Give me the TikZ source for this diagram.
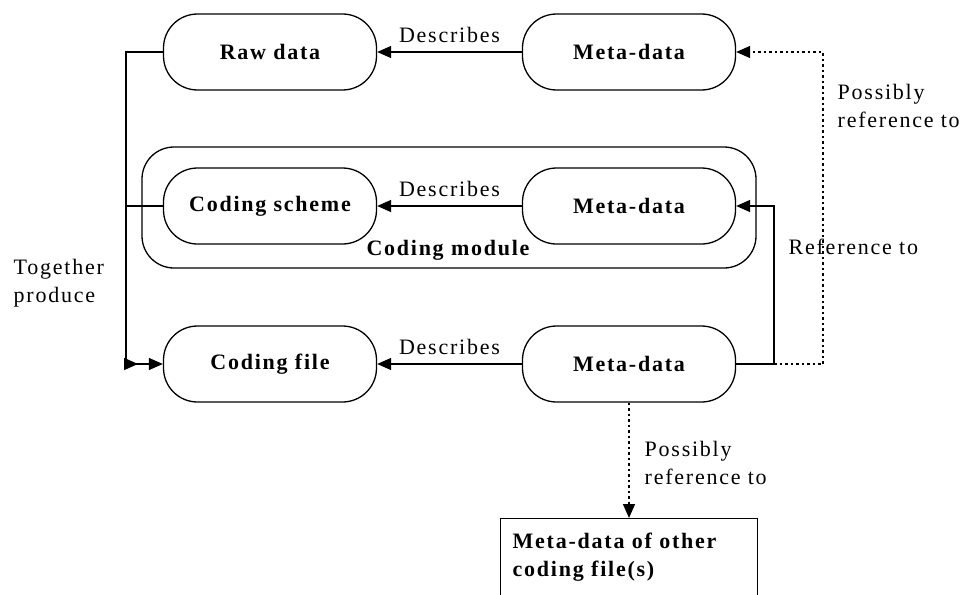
\documentclass[tikz,border=0pt]{standalone}
\usepackage{fontspec}
\setmainfont[LetterSpace=8]{Liberation Serif}
\usetikzlibrary{arrows.meta}

\tikzset{
    blob/.style={draw, line width=1.3pt, rounded corners=34pt, minimum width=213pt,
        minimum height=76pt, font=\fontsize{22}{28}\selectfont\bfseries},
    lbl/.style={inner sep=0pt, align=left},
    arr/.style={-{Triangle[length=14pt, width=12pt]}},
    dots/.style={dash pattern=on 2.5pt off 3pt},
}

\begin{document}
\begin{tikzpicture}[x=1pt, y=-1pt, line width=1.4pt,
    font=\fontsize{22}{28}\selectfont]
    \clip (0,0) rectangle (963,594);
    % Draw coding module frame
    \node[draw, line width=1.3pt, rounded corners=32pt, minimum width=614pt,
        minimum height=121pt] (module) at (449,207.5) {};
    \node[lbl, font=\fontsize{22}{28}\selectfont\bfseries] (modname) at (448,250) {Coding module};
    % Draw boxes
    \node[blob] (raw) at (270,52) {Raw data};
    \node[blob] (meta1) at (629,52) {Meta-data};
    \node[blob] (scheme) at (270,206) {Coding scheme};
    \node[blob] (meta2) at (629,206) {Meta-data};
    \node[blob] (file) at (270,364) {Coding file};
    \node[blob] (meta3) at (629,364) {Meta-data};
    \node[draw, anchor=north west, minimum width=257pt, text width=233pt, text depth=40pt,
        inner xsep=12pt, inner ysep=14pt, align=left, font=\fontsize{22}{28}\selectfont\bfseries]
        (other) at (500,518) {Meta-data of other\\coding file(s)};
    % Draw describes arrows
    \draw[arr] (meta1.west) -- (raw.east) node[midway, above=5pt] (desc1) {Describes};
    \draw[arr] (meta2.west) -- (scheme.east) node[midway, above=5pt] (desc2) {Describes};
    \draw[arr] (meta3.west) -- (file.east) node[midway, above=5pt] (desc3) {Describes};
    % Draw together produce
    \coordinate (trunk) at (126,206);
    \coordinate (corner) at (126,364);
    \draw[arr] (raw.west) -| (trunk) |- (file.west);
    \draw (scheme.west) -- (trunk);
    \draw[arr] (corner) -- ++(12,0);
    \node[lbl, anchor=west] (together) at (13,283) {Together\\produce};
    % Draw reference to
    \coordinate (jn) at (774,364);
    \coordinate (dt) at (823,364);
    \draw[arr] (meta3.east) -- (jn) |- (meta2.east);
    \node[lbl, anchor=west] (refto) at (788,247) {Reference to};
    % Draw possibly reference to
    \draw[arr, dots] (jn) -- (dt) |- (meta1.east);
    \node[lbl, anchor=west] (poss1) at (837,106) {Possibly\\reference to};
    \draw[arr, dots] (meta3.south) -- (other.north -| meta3.south);
    \node[lbl, anchor=west] (poss2) at (644,463) {Possibly\\reference to};
\end{tikzpicture}
\end{document}
